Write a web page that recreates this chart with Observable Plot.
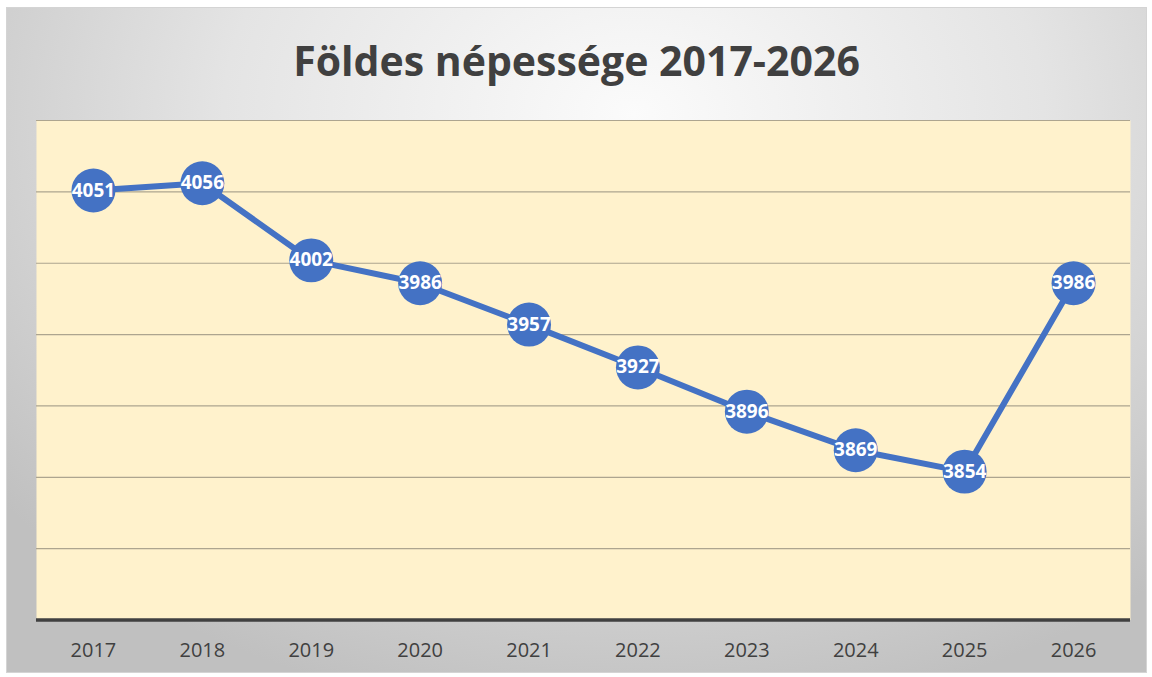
<!DOCTYPE html>
<html>
<head>
<meta charset="utf-8">
<script src="https://cdn.jsdelivr.net/npm/d3@7"></script>
<script src="https://cdn.jsdelivr.net/npm/@observablehq/plot@0.6"></script>
<style>
  html, body { margin: 0; padding: 0; background: #ffffff; }
  #card {
    position: absolute; left: 6px; top: 7px; width: 1141px; height: 666px;
    box-sizing: border-box; border: 1px solid #d4d4d4;
    background: radial-gradient(ellipse 72% 92% at 55% 16%, #fbfbfb 0%, #e4e4e4 50%, #c0c0c0 100%);
  }
  #title {
    position: absolute; left: 0; top: 0; width: 100%; height: 113px;
    display: flex; align-items: center; justify-content: center;
    font-family: "Open Sans", sans-serif; font-weight: 700; font-size: 41px;
    color: #404040; padding-bottom: 10px; box-sizing: border-box;
  }
  #chart { position: absolute; left: -1px; top: 112px; }
</style>
</head>
<body>
<div id="card">
  <div id="title">Földes népessége 2017-2026</div>
  <div id="chart"></div>
</div>
<script>
const years = ["2017","2018","2019","2020","2021","2022","2023","2024","2025","2026"];
const population = [4051, 4056, 4002, 3986, 3957, 3927, 3896, 3869, 3854, 3986];
const gridValues = [3800, 3850, 3900, 3950, 4000, 4050, 4100];

const data = years.map((y, i) => ({year: y, value: population[i]}));

const blue = "#4472C4";
const chart = Plot.plot({
  width: 1141,
  height: 554,
  marginLeft: 30,
  marginRight: 16,
  marginTop: 0,
  marginBottom: 54,
  style: { fontFamily: "Open Sans, sans-serif", background: "transparent", overflow: "visible" },
  x: { type: "point", domain: years, padding: 0.5, label: null },
  y: { domain: [3750, 4100], axis: null },
  marks: [
    Plot.frame({ fill: "#FFF2CC", stroke: null }),
    Plot.ruleY(gridValues, { stroke: "#ada58f", strokeWidth: 1.2 }),
    Plot.ruleY([3750], { stroke: "#404040", strokeWidth: 3.5 }),
    Plot.axisX({ tickSize: 0, tickPadding: 23, fontSize: 20, fill: "#404040", label: null }),
    Plot.line(data, { x: "year", y: "value", stroke: blue, strokeWidth: 6 }),
    Plot.dot(data, { x: "year", y: "value", r: 22, fill: blue, stroke: null }),
    Plot.text(data, { x: "year", y: "value", text: d => String(d.value), fill: "white",
      fontWeight: "bold", fontSize: 19, fontFamily: "Open Sans, sans-serif" })
  ]
});
document.getElementById("chart").appendChild(chart);
</script>
</body>
</html>
